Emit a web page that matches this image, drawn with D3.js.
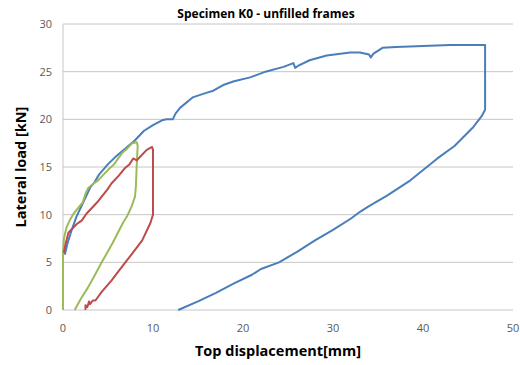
<!DOCTYPE html>
<html>
<head>
<meta charset="utf-8">
<script src="https://cdn.jsdelivr.net/npm/d3@7"></script>
<style>
  body { margin: 0; background: #fff; }
  svg { display: block; font-family: "Open Sans", "Noto Sans", sans-serif; }
</style>
</head>
<body>
<svg width="520" height="365"></svg>
<script>
// hysteresis loops, [displacement mm, load kN]
const blueLoop = [[0.2,5.8],[0.5,7],[1,8.5],[1.5,9.8],[2,10.8],[2.5,11.8],[3,12.8],[3.5,13.4],[4,14.2],[5,15.3],[6,16.2],[7,17],[8,17.8],[9,18.8],[10,19.4],[11,19.9],[11.5,20],[12.2,20],[12.5,20.6],[13,21.2],[14.4,22.3],[16,22.8],[16.7,23],[17.8,23.6],[19,24],[20.8,24.4],[22.5,25],[24.5,25.5],[25.6,25.9],[25.8,25.4],[26.1,25.6],[27.4,26.2],[29.3,26.7],[31.9,27.0],[33,27.0],[34,26.8],[34.2,26.5],[34.5,26.9],[35.5,27.5],[37,27.6],[40,27.7],[43,27.8],[46.9,27.8],[46.9,21],[46.5,20.3],[45.6,19.2],[43.5,17.2],[41.6,15.9],[38.6,13.6],[36,12],[34,10.9],[33,10.3],[32,9.6],[30,8.4],[28,7.3],[26,6.1],[24,5],[22,4.3],[21,3.7],[19,2.8],[17,1.8],[15,0.9],[12.8,0]];
const redLoop = [[0.1,6],[0.3,7],[0.6,8.1],[1.1,8.6],[1.5,9],[2.1,9.4],[2.6,10.1],[3.2,10.7],[3.8,11.3],[4.3,11.9],[4.9,12.6],[5.4,13.3],[6.2,14.1],[6.9,14.9],[7.4,15.3],[7.8,15.9],[8.2,15.7],[8.6,16.1],[9.3,16.8],[9.9,17.1],[10,16.8],[10,12],[10,10],[9.7,9.1],[8.8,7.3],[8,6.3],[7.1,5.2],[6.2,4.1],[5.4,3.1],[4.3,1.9],[3.6,1.0],[3.3,1.0],[3.0,0.6],[2.9,0.9],[2.7,0.3],[2.5,0.5],[2.5,0]];
const greenLoop = [[0,0],[0,6],[0.1,7.5],[0.4,8.7],[0.8,9.5],[1.1,10],[1.6,10.6],[2.2,11.3],[2.5,12.2],[2.8,12.8],[3.3,13.2],[3.9,13.6],[4.5,14.2],[5,14.7],[5.6,15.2],[6.6,16.5],[7.2,17],[7.7,17.5],[8.2,17.6],[8.3,17.2],[8.2,15.4],[8.1,13],[8.0,11.9],[7.6,10.8],[7.1,9.8],[6.7,9.2],[5.5,7],[4.3,5.0],[3.5,3.6],[2.8,2.4],[2,1.2],[1.3,0]];

const xTicks = [0, 10, 20, 30, 40, 50];
const yTicks = [0, 5, 10, 15, 20, 25, 30];

const svg = d3.select("svg");
const x = d3.scaleLinear().domain([0, 50]).range([63, 513]);
const y = d3.scaleLinear().domain([0, 30]).range([310, 24]);

// horizontal gridlines
svg.append("g")
  .selectAll("line")
  .data(yTicks).enter()
  .append("line")
  .attr("x1", x(0)).attr("x2", x(50))
  .attr("y1", d => y(d)).attr("y2", d => y(d))
  .attr("stroke", "#c6c6c6")
  .attr("stroke-width", 1);

// left axis line
svg.append("line")
  .attr("x1", x(0)).attr("x2", x(0))
  .attr("y1", y(0)).attr("y2", y(30))
  .attr("stroke", "#c6c6c6");

svg.append("g")
  .selectAll("text")
  .data(yTicks).enter()
  .append("text")
  .attr("x", 52)
  .attr("y", d => y(d) + 4)
  .attr("text-anchor", "end")
  .attr("font-size", 11)
  .attr("fill", "#595959")
  .text(d => d);

svg.append("g")
  .selectAll("text")
  .data(xTicks).enter()
  .append("text")
  .attr("x", d => x(d))
  .attr("y", 332)
  .attr("text-anchor", "middle")
  .attr("font-size", 11)
  .attr("fill", "#595959")
  .text(d => d);

const line = d3.line().x(d => x(d[0])).y(d => y(d[1]));
const loops = [
  { data: blueLoop, color: "#4a7ebb" },
  { data: greenLoop, color: "#9bbb59" },
  { data: redLoop, color: "#be4b48" }
];
svg.append("g")
  .selectAll("path")
  .data(loops).enter()
  .append("path")
  .attr("d", d => line(d.data))
  .attr("fill", "none")
  .attr("stroke", d => d.color)
  .attr("stroke-width", 2)
  .attr("stroke-linejoin", "round");

svg.append("text")
  .attr("x", 266).attr("y", 18)
  .attr("text-anchor", "middle")
  .attr("font-size", 12)
  .attr("font-weight", "bold")
  .attr("fill", "#000")
  .text("Specimen K0 - unfilled frames");

svg.append("text")
  .attr("x", 278).attr("y", 356)
  .attr("text-anchor", "middle")
  .attr("font-size", 14.5)
  .attr("font-weight", "bold")
  .text("Top displacement[mm]");

svg.append("text")
  .attr("transform", "translate(26,167) rotate(-90)")
  .attr("text-anchor", "middle")
  .attr("font-size", 14.5)
  .attr("font-weight", "bold")
  .text("Lateral load [kN]");
</script>
</body>
</html>
